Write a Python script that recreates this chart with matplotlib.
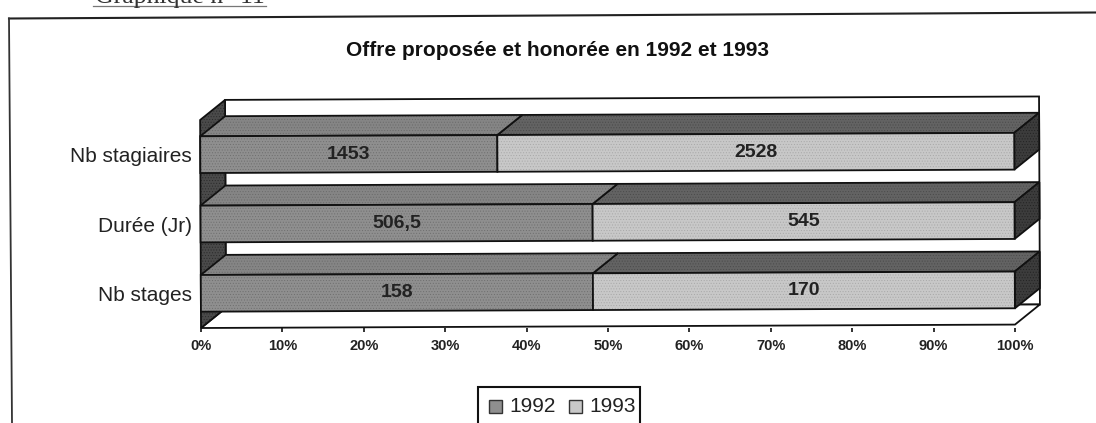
import matplotlib
matplotlib.use("Agg")
import matplotlib.pyplot as plt
from matplotlib.patches import Polygon, Rectangle
from matplotlib.transforms import Affine2D
import numpy as np

plt.rcParams['font.family'] = ['Liberation Sans', 'DejaVu Sans']
plt.rcParams['hatch.linewidth'] = 0.4

categories = ["Nb stages", "Durée (Jr)", "Nb stagiaires"]
labels_1992 = ["158", "506,5", "1453"]
labels_1993 = ["170", "545", "2528"]
values_1992 = [158, 506.5, 1453]
values_1993 = [170, 545, 2528]
series_names = ["1992", "1993"]
ticks = [0, 10, 20, 30, 40, 50, 60, 70, 80, 90, 100]

W, H = 1096, 423
fig = plt.figure(figsize=(W / 100, H / 100), dpi=100, facecolor="white")

# page frame and caption
bg = fig.add_axes([0, 0, 1, 1], zorder=0)
bg.set_xlim(0, W); bg.set_ylim(H, 0); bg.axis("off")
bg.plot([9, 1096], [18.5, 12.5], color="#222222", lw=1.5)
bg.plot([9, 12], [18.5, 423], color="#333333", lw=1.3)
bg.plot([93, 266], [6, 6], color="#777777", lw=0.9)
bg.text(95, 3, "Graphique n° 11", family="Liberation Serif", fontsize=18.5, color="#333333",
        ha="left", va="baseline", clip_on=True)

# plot axes (front plane)
x0, x1, ytop, ybot = 201, 1015, 120, 328
ax = fig.add_axes([x0 / W, 1 - ybot / H, (x1 - x0) / W, (ybot - ytop) / H], zorder=1)
ax.set_xlim(0, 100); ax.set_ylim(-0.5, 2.5)
ax.patch.set_visible(False)
for s in ax.spines.values():
    s.set_visible(False)

DX, DY = 25, 20
tilt = Affine2D().rotate_around(x0, H - ybot, 0.0042)
front = ax.transData + tilt
depth = ax.transData + Affine2D().translate(DX, DY) + tilt
K = "#111111"
C92, C93 = "#8f8f8f", "#c8c8c8"
T92, T93 = "#858585", "#636363"
SIDE = "#3c3c3c"


def solid(pts3, fc, z, dots=None):
    """Polygon from (x, y, d) points: d=0 on the front plane, d=1 on the back plane."""
    pts = [(depth if d else front).transform((x, y)) for x, y, d in pts3]
    if dots:
        ax.add_patch(Polygon(pts, closed=True, transform=None, clip_on=False, fc=fc, ec=dots,
                             lw=0, hatch="......", zorder=z))
        fc = "none"
    ax.add_patch(Polygon(pts, closed=True, transform=None, clip_on=False, fc=fc, ec=K,
                         lw=1.3, zorder=z))


solid([(0, 2.5, 1), (100, 2.5, 1), (100, -0.5, 1), (0, -0.5, 1)], "white", 1)      # back wall
solid([(0, -0.5, 0), (100, -0.5, 0), (100, -0.5, 1), (0, -0.5, 1)], "white", 1)    # floor
solid([(0, -0.5, 0), (0, 2.5, 0), (0, 2.5, 1), (0, -0.5, 1)], "#4a4a4a", 2, "#2a2a2a")  # left wall

bar_h = 0.53
tot = np.array(values_1992) + np.array(values_1993)
p92 = np.array(values_1992) / tot * 100
for i in range(3):
    lo, hi = i - bar_h / 2, i + bar_h / 2
    z = 3 + (2 - i) * 0.1
    solid([(p92[i], hi, 0), (100, hi, 0), (100, hi, 1), (p92[i], hi, 1)], T93, z, "#4a4a4a")
    solid([(0, hi, 0), (p92[i], hi, 0), (p92[i], hi, 1), (0, hi, 1)], T92, z, "#6a6a6a")
    solid([(100, lo, 0), (100, hi, 0), (100, hi, 1), (100, lo, 1)], SIDE, z, "#222222")
    solid([(0, lo, 0), (p92[i], lo, 0), (p92[i], hi, 0), (0, hi, 0)], C92, z + 0.05, "#6e6e6e")
    solid([(p92[i], lo, 0), (100, lo, 0), (100, hi, 0), (p92[i], hi, 0)], C93, z + 0.05, "#a8a8a8")
    ax.text(p92[i] / 2, i, labels_1992[i], transform=front, ha="center", va="center",
            fontsize=14, fontweight="bold", color="#222222", zorder=6)
    ax.text((p92[i] + 100) / 2, i, labels_1993[i], transform=front, ha="center", va="center",
            fontsize=14, fontweight="bold", color="#222222", zorder=6)

ax.set_xticks(ticks)
ax.set_xticklabels([f"{t}%" for t in ticks], fontsize=10.5, fontweight="bold", color="#222222")
ax.set_yticks(range(3))
ax.set_yticklabels(categories, fontsize=15, color="#222222")
ax.tick_params(axis="x", length=3, width=1.2, color=K, pad=5)
ax.tick_params(axis="y", length=0, pad=6.5)

fig.text(557 / W, 1 - 51 / H, "Offre proposée et honorée en 1992 et 1993", ha="center", va="center",
         fontsize=15, fontweight="bold", color="#111111")

# legend
bg.add_patch(Rectangle((478, 387), 162, 45, fc="white", ec=K, lw=1.5, zorder=5))
for xs, name, col in zip([489, 569], series_names, [C92, C93]):
    bg.add_patch(Rectangle((xs, 400), 13, 13, fc=col, ec="#333333", lw=1.0, zorder=6))
    bg.text(xs + 20, 406.5, name, ha="left", va="center", fontsize=15, color="#222222", zorder=6)

fig.savefig("out.png", dpi=100)
